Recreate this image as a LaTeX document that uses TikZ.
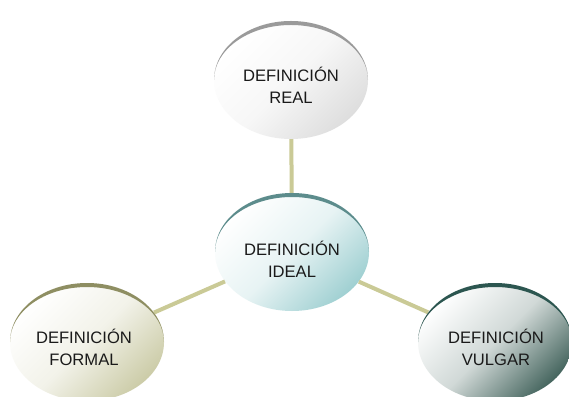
\documentclass[tikz,border=0pt]{standalone}
\usepackage{fontspec}
\setmainfont{Liberation Sans}
\usetikzlibrary{shapes.geometric,calc}
\definecolor{linkc}{HTML}{CACA96}
\definecolor{realA}{HTML}{9A9A9A}
\definecolor{realB}{HTML}{DEDEDE}
\definecolor{idealA}{HTML}{5C8C8C}
\definecolor{idealB}{HTML}{A0D0D2}
\definecolor{formA}{HTML}{8E8E62}
\definecolor{formB}{HTML}{CCCCA8}
\definecolor{vulgA}{HTML}{2C5650}
\definecolor{vulgB}{HTML}{46665F}
\definecolor{txtc}{HTML}{1A1A1A}
\tikzset{
  bub/.style={ellipse, minimum width=154pt, minimum height=118pt, inner sep=0pt, top color=white, bottom color=#1, middle color=white!75!#1, shading angle=45},
  link/.style={line width=4pt, draw=linkc},
  txt/.style={font=\fontsize{16.6}{22}\selectfont, align=center, text=txtc},
}
\newcommand{\crescent}[2]{%
  \fill[#2] ($(#1.center)+(-77pt,0)$) arc[start angle=180, end angle=0, x radius=77pt, y radius=59pt]
     arc[start angle=0, end angle=180, x radius=77pt, y radius=55pt] -- cycle;}
\begin{document}
\begin{tikzpicture}[x=1pt,y=1pt]
\clip (0,0) rectangle (569,396);
\fill[white] (0,0) rectangle (569,396);
\path (291,316) node[bub=realB] (real) {}
      (292,144) node[bub=idealB] (ideal) {}
      (87,54) node[bub=formB] (formal) {}
      (495,54) node[bub=vulgB] (vulgar) {};
\draw[link] (real) -- (ideal);
\draw[link] (ideal) -- (formal);
\draw[link] (ideal) -- (vulgar);
\crescent{real}{realA}
\crescent{ideal}{idealA}
\crescent{formal}{formA}
\crescent{vulgar}{vulgA}
\node[txt] (treal) at ($(real.center)+(0,-5)$) {DEFINICIÓN\\REAL};
\node[txt] (tideal) at ($(ideal.center)+(0,-7)$) {DEFINICIÓN\\IDEAL};
\node[txt] (tformal) at ($(formal.center)+(-3,-5)$) {DEFINICIÓN\\FORMAL};
\node[txt] (tvulgar) at ($(vulgar.center)+(1,-5)$) {DEFINICIÓN\\VULGAR};
\end{tikzpicture}
\end{document}
